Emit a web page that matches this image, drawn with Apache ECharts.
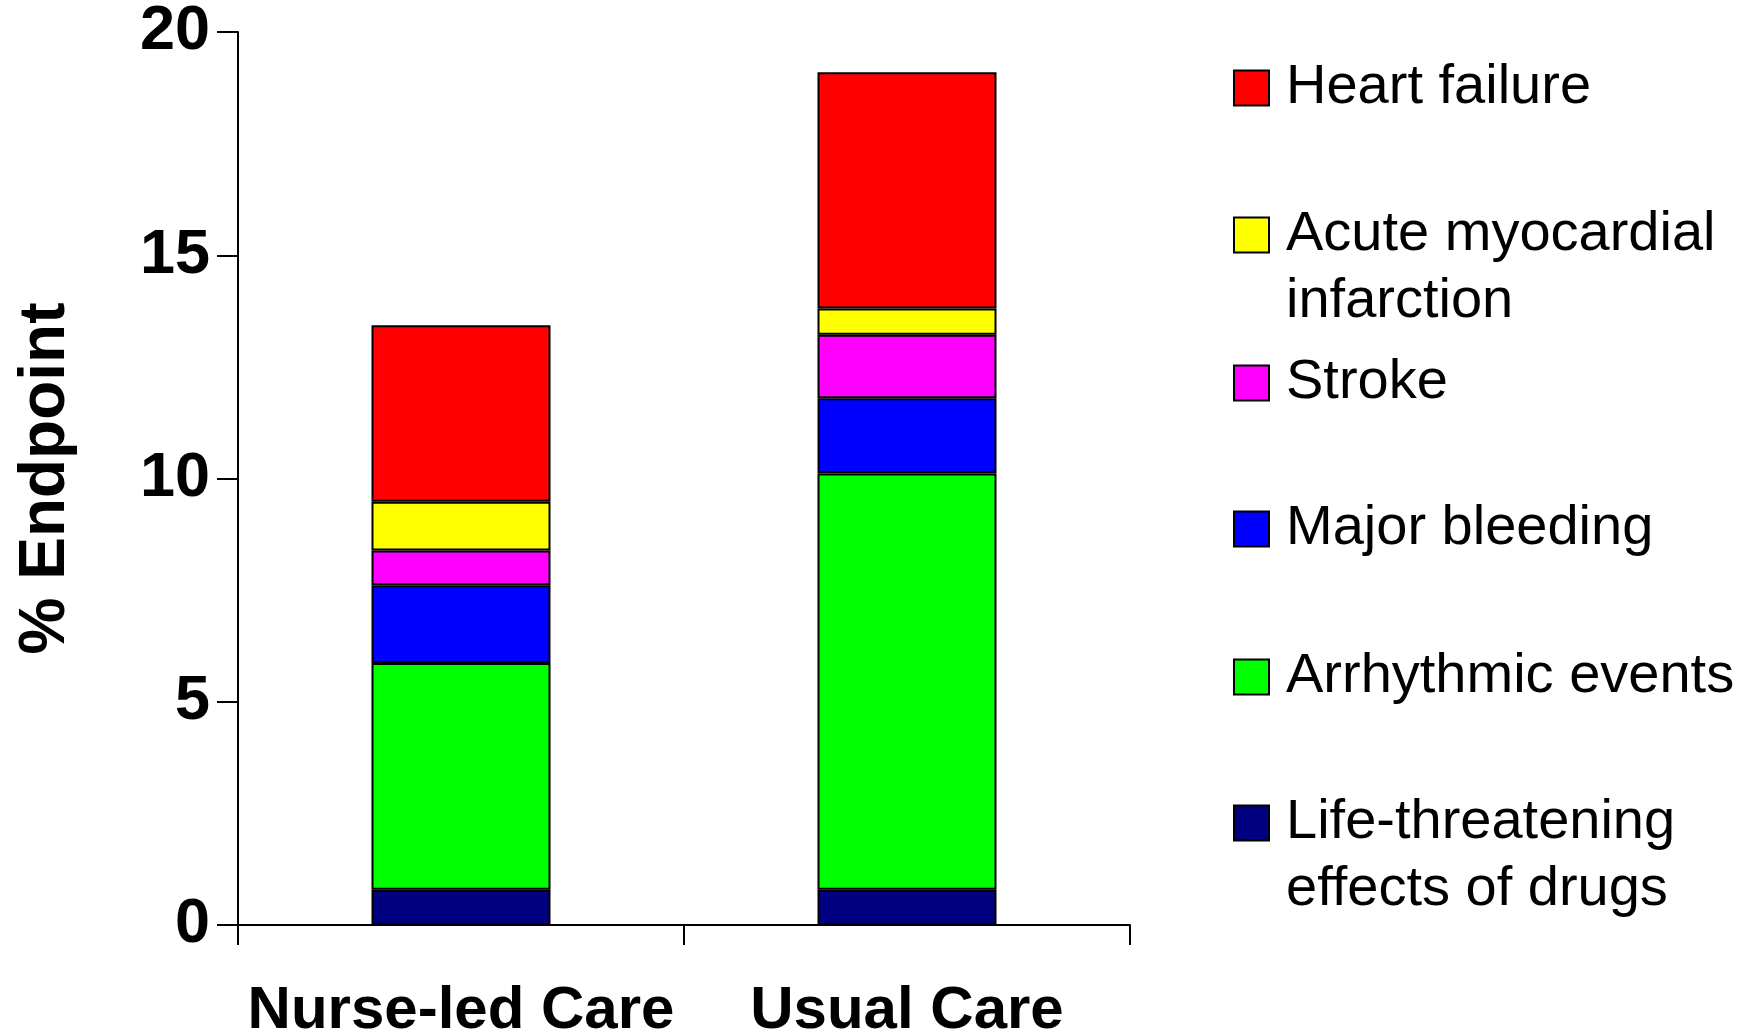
<!DOCTYPE html>
<html>
<head>
<meta charset="utf-8">
<title>% Endpoint by care type</title>
<script src="https://cdn.jsdelivr.net/npm/echarts@6/dist/echarts.min.js"></script>
<style>
  html, body { margin: 0; padding: 0; background: #fff; }
  #chart { width: 1754px; height: 1035px; }
</style>
</head>
<body>
<div id="chart"></div>
<script>
// categories on the x axis
var careGroups = ['Nurse-led Care', 'Usual Care'];

// stacked segment heights (% endpoint), bottom of the stack first
var lifeThreatening = [0.79, 0.79];
var arrhythmic      = [5.08, 9.32];
var majorBleeding   = [1.74, 1.69];
var stroke          = [0.78, 1.42];
var acuteMI         = [1.09, 0.59];
var heartFailure    = [3.95, 5.29];

var yTicks = [0, 5, 10, 15, 20];

// legend entries, top to bottom as in the picture
var legendNames = [
  'Heart failure',
  'Acute myocardial\ninfarction',
  'Stroke',
  'Major bleeding',
  'Arrhythmic events',
  'Life-threatening\neffects of drugs'
];

var FONT = '"Liberation Sans", Arial, sans-serif';
var chart = echarts.init(document.getElementById('chart'));

function bar(name, color, values) {
  return {
    name: name,
    type: 'bar',
    stack: 'endpoint',
    barWidth: 179,
    data: values,
    itemStyle: { color: color, borderColor: '#000', borderWidth: 2 },
    emphasis: { disabled: true }
  };
}

var series = [
  bar(legendNames[5], '#000080', lifeThreatening),
  bar(legendNames[4], '#00FF00', arrhythmic),
  bar(legendNames[3], '#0000FF', majorBleeding),
  bar(legendNames[2], '#FF00FF', stroke),
  bar(legendNames[1], '#FFFF00', acuteMI),
  bar(legendNames[0], '#FF0000', heartFailure)
];

// marker centres of the legend entries (px from top)
var legendCentres = [88, 235, 383, 529, 677, 823];
var LINE_H = 67;
var legends = legendNames.map(function (name, i) {
  var twoLines = name.indexOf('\n') >= 0;
  return {
    data: [name],
    orient: 'vertical',
    left: 1233,
    top: legendCentres[i] - (twoLines ? 100.5 : 33.5),
    padding: 0,
    icon: 'rect',
    itemWidth: 35,
    itemHeight: 35,
    selectedMode: false,
    itemStyle: { borderColor: '#000', borderWidth: 2 },
    // a blank first line keeps the first text line level with the marker
    formatter: function (n) { return twoLines ? ' \n' + n : n; },
    textStyle: {
      fontFamily: FONT,
      fontSize: 56,
      color: '#000',
      lineHeight: LINE_H,
      padding: [0, 0, 0, 12]
    }
  };
});

var option = {
  animation: false,
  backgroundColor: '#fff',
  textStyle: { fontFamily: FONT },
  legend: legends,
  grid: {
    left: 238, right: 624, top: 32, bottom: 110,
    containLabel: false,
    outerBoundsMode: 'none'
  },
  xAxis: {
    type: 'category',
    data: careGroups,
    boundaryGap: true,
    axisLine: { lineStyle: { color: '#000', width: 2 } },
    axisTick: { show: true, length: 20, lineStyle: { color: '#000', width: 2 } },
    axisLabel: { interval: 0, color: '#000', fontFamily: FONT, fontWeight: 'bold', fontSize: 60, margin: 56 }
  },
  yAxis: {
    type: 'value',
    min: yTicks[0],
    max: yTicks[yTicks.length - 1],
    interval: yTicks[1] - yTicks[0],
    name: '% Endpoint',
    nameLocation: 'middle',
    nameRotate: 90,
    nameGap: 160,
    nameTextStyle: { color: '#000', fontFamily: FONT, fontWeight: 'bold', fontSize: 64 },
    splitLine: { show: false },
    axisLine: { show: true, lineStyle: { color: '#000', width: 2 } },
    axisTick: { show: true, length: 21, lineStyle: { color: '#000', width: 2 } },
    axisLabel: { color: '#000', fontFamily: FONT, fontWeight: 'bold', fontSize: 63, margin: 28 }
  },
  series: series
};

chart.setOption(option);
</script>
</body>
</html>
